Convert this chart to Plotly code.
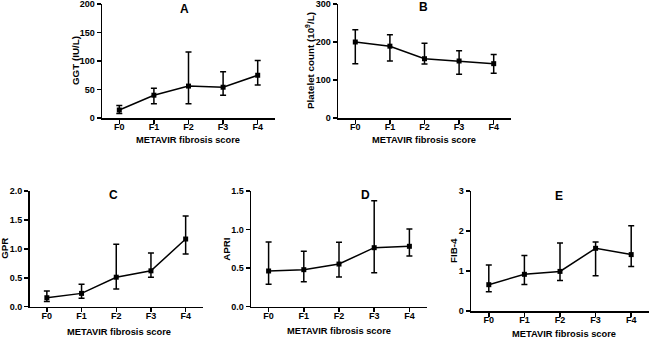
import plotly.graph_objects as go

W, H = 650, 337

categories = ["F0", "F1", "F2", "F3", "F4"]

# Panel A: GGT
ggt_mean = [14, 40, 56, 54, 75]
ggt_upper = [22, 52, 116, 81, 101]
ggt_lower = [8, 25, 25, 40, 58]

# Panel B: Platelet count
plt_mean = [200, 189, 156, 150, 143]
plt_upper = [232, 219, 197, 177, 167]
plt_lower = [143, 150, 142, 115, 118]

# Panel C: GPR
gpr_mean = [0.155, 0.23, 0.51, 0.62, 1.17]
gpr_upper = [0.27, 0.386, 1.08, 0.93, 1.57]
gpr_lower = [0.09, 0.144, 0.305, 0.507, 0.91]

# Panel D: APRI
apri_mean = [0.463, 0.48, 0.553, 0.765, 0.783]
apri_upper = [0.839, 0.718, 0.834, 1.375, 1.007]
apri_lower = [0.29, 0.324, 0.385, 0.441, 0.657]

# Panel E: FIB-4
fib_mean = [0.658, 0.917, 0.99, 1.567, 1.41]
fib_upper = [1.15, 1.39, 1.7, 1.725, 2.13]
fib_lower = [0.48, 0.66, 0.76, 0.883, 1.11]

panels = [
    dict(letter="A", ytitle="GGT (IU/L)", mean=ggt_mean, up=ggt_upper, lo=ggt_lower,
         yrange=[0, 200], ytickvals=[0, 50, 100, 150, 200], yticktext=["0", "50", "100", "150", "200"],
         px=(102, 275), py=(4, 118), ytitle_x=75, letter_xy=(184, 9), xtitle_xy=(188, 140)),
    dict(letter="B", ytitle="Platelet count (10<sup>9</sup>/L)", mean=plt_mean, up=plt_upper, lo=plt_lower,
         yrange=[0, 300], ytickvals=[0, 100, 200, 300], yticktext=["0", "100", "200", "300"],
         px=(338, 511), py=(4, 118), ytitle_x=310, letter_xy=(424, 7), xtitle_xy=(424, 140)),
    dict(letter="C", ytitle="GPR", mean=gpr_mean, up=gpr_upper, lo=gpr_lower,
         yrange=[0, 2], ytickvals=[0, 0.5, 1, 1.5, 2], yticktext=["0.0", "0.5", "1.0", "1.5", "2.0"],
         px=(29.5, 203), py=(191, 306.7), ytitle_x=5, letter_xy=(113, 195), xtitle_xy=(119, 331.5)),
    dict(letter="D", ytitle="APRI", mean=apri_mean, up=apri_upper, lo=apri_lower,
         yrange=[0, 1.5], ytickvals=[0, 0.5, 1, 1.5], yticktext=["0.0", "0.5", "1.0", "1.5"],
         px=(251, 427), py=(191, 306.7), ytitle_x=227, letter_xy=(366, 195), xtitle_xy=(339, 331)),
    dict(letter="E", ytitle="FIB-4", mean=fib_mean, up=fib_upper, lo=fib_lower,
         yrange=[0, 3], ytickvals=[0, 1, 2, 3], yticktext=["0", "1", "2", "3"],
         px=(471, 649), py=(191, 311), ytitle_x=453, letter_xy=(559, 196), xtitle_xy=(564, 334)),
]

FONT = "Liberation Sans, Arial, sans-serif"
fig = go.Figure()
layout = dict(
    width=W, height=H,
    margin=dict(l=0, r=0, t=0, b=0, autoexpand=False),
    paper_bgcolor="white", plot_bgcolor="white",
    showlegend=False,
    font=dict(family=FONT, color="black"),
)
annotations = []

for i, p in enumerate(panels):
    n = "" if i == 0 else str(i + 1)
    xa, ya = "x" + n, "y" + n
    errp = [u - m for u, m in zip(p["up"], p["mean"])]
    errm = [m - l for m, l in zip(p["mean"], p["lo"])]
    fig.add_trace(go.Scatter(
        x=list(range(len(categories))), y=p["mean"], xaxis=xa, yaxis=ya,
        mode="lines+markers",
        line=dict(color="black", width=1.5),
        marker=dict(symbol="square", size=5, color="black"),
        error_y=dict(type="data", symmetric=False, array=errp, arrayminus=errm,
                     color="black", thickness=1.5, width=3),
        cliponaxis=False,
    ))
    x0, x1 = p["px"]
    y0, y1 = p["py"]
    layout["xaxis" + n] = dict(
        domain=[x0 / W, x1 / W], anchor=ya, range=[-0.5, 4.5],
        tickmode="array", tickvals=list(range(5)), ticktext=categories,
        showline=True, linecolor="black", linewidth=1.5,
        ticks="outside", ticklen=4, tickwidth=1.5, tickcolor="black",
        showgrid=False, zeroline=False, automargin=False,
        ticklabeloverflow="allow", ticklabelstandoff=-4,
        tickfont=dict(family=FONT, size=9, color="black", weight="bold"),
        fixedrange=True,
    )
    layout["yaxis" + n] = dict(
        domain=[1 - y1 / H, 1 - y0 / H], anchor=xa, range=p["yrange"],
        tickmode="array", tickvals=p["ytickvals"], ticktext=p["yticktext"],
        showline=True, linecolor="black", linewidth=1.5,
        ticks="outside", ticklen=4, tickwidth=1.5, tickcolor="black",
        showgrid=False, zeroline=False, automargin=False,
        ticklabeloverflow="allow",
        tickfont=dict(family=FONT, size=9, color="black", weight="bold"),
        fixedrange=True,
    )
    lx, ly = p["letter_xy"]
    annotations.append(dict(
        text="<b>%s</b>" % p["letter"], xref="paper", yref="paper",
        x=lx / W, y=1 - ly / H, xanchor="center", yanchor="middle",
        showarrow=False, font=dict(family=FONT, size=12, color="black")))
    tx, ty = p["xtitle_xy"]
    annotations.append(dict(
        text="<b>METAVIR fibrosis score</b>", xref="paper", yref="paper",
        x=tx / W, y=1 - ty / H, xanchor="center", yanchor="middle",
        showarrow=False, font=dict(family=FONT, size=9.3, color="black")))
    annotations.append(dict(
        text="<b>%s</b>" % p["ytitle"], xref="paper", yref="paper",
        x=p["ytitle_x"] / W, y=1 - ((y0 + y1) / 2) / H, xanchor="center", yanchor="middle",
        textangle=-90, showarrow=False, font=dict(family=FONT, size=9.8, color="black")))

layout["annotations"] = annotations
fig.update_layout(**layout)
fig.write_html("out.html", config={"displayModeBar": False, "staticPlot": True},
               post_script="document.body.style.margin='0';document.body.style.overflow='hidden';")
